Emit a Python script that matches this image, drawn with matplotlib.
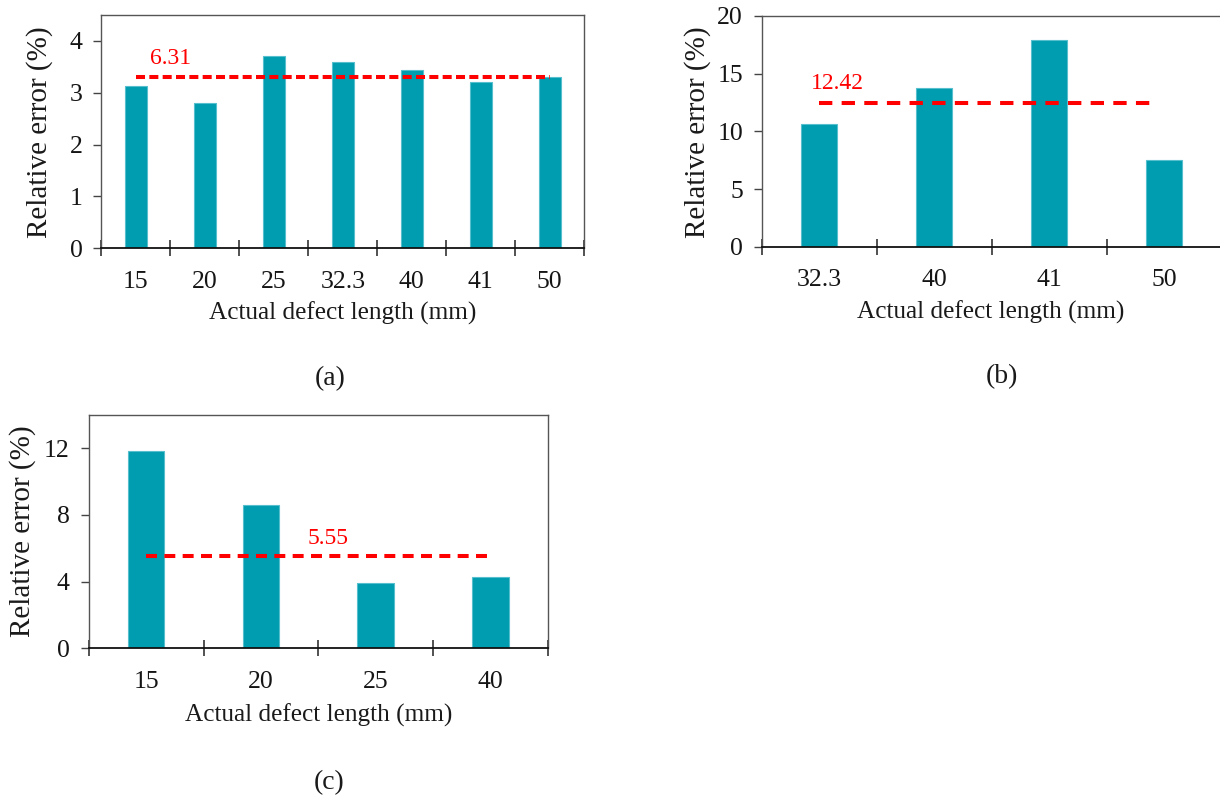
import numpy as np
import matplotlib.pyplot as plt

plt.rcParams['font.family'] = ['Liberation Serif', 'DejaVu Serif']
plt.rcParams['lines.scale_dashes'] = False

BAR_COLOR = '#009caf'
AVG_COLOR = '#ff0000'
W, H = 1220, 797

# (a) all defects
lengths_a = ['15', '20', '25', '32.3', '40', '41', '50']
errors_a = [3.13, 2.81, 3.70, 3.60, 3.43, 3.20, 3.30]
avg_a = 3.31
avg_text_a = '6.31'

# (b)
lengths_b = ['32.3', '40', '41', '50']
errors_b = [10.64, 13.73, 17.92, 7.51]
avg_b = 12.42
avg_text_b = '12.42'

# (c)
lengths_c = ['15', '20', '25', '40']
errors_c = [11.86, 8.61, 3.91, 4.30]
avg_c = 5.55
avg_text_c = '5.55'


def px_axes(fig, left, top, right, bottom):
    # axes rectangle given in pixel coords (origin top-left)
    return fig.add_axes([left / W, 1 - bottom / H, (right - left) / W, (bottom - top) / H])


def px_text(fig, x, y, s, **kw):
    fig.text(x / W, 1 - y / H, s, ha='center', va='center', color='#1a1a1a', **kw)


def draw_panel(ax, cats, vals, avg, avg_text, ymax, ystep, line_end, text_xy, dashes, bar_w=0.32):
    x = np.arange(len(cats))
    ax.bar(x, vals, width=bar_w, color=BAR_COLOR, edgecolor='#55bfcd', linewidth=0.8, zorder=2)
    ax.plot([0, line_end], [avg, avg], color=AVG_COLOR, lw=2.9, dashes=dashes,
            dash_capstyle='butt', zorder=3)
    ax.text(text_xy[0], text_xy[1], avg_text, color=AVG_COLOR, fontsize=17,
            ha='center', va='center')

    ax.set_xlim(-0.5, len(cats) - 0.5)
    ax.set_ylim(0, ymax)
    yt = np.arange(0, ymax + 0.01, ystep)
    ax.set_yticks(yt)
    ax.set_yticklabels([f'{v:g}' for v in yt])
    ax.set_xticks(x)
    ax.set_xticklabels(cats)
    ax.set_xticks(np.arange(len(cats) + 1) - 0.5, minor=True)

    ax.tick_params(axis='x', which='major', length=0, pad=16, labelsize=18.5, labelcolor='#151515')
    ax.tick_params(axis='x', which='minor', direction='inout', length=12, width=1.1, color='#222222')
    ax.tick_params(axis='y', direction='out', length=5.5, width=1, pad=8, labelsize=18.5,
                   color='#444444', labelcolor='#151515')

    for side in ['left', 'top', 'right']:
        ax.spines[side].set_color('#555555')
        ax.spines[side].set_linewidth(1.0)
    ax.spines['bottom'].set_color('#111111')
    ax.spines['bottom'].set_linewidth(1.3)


fig = plt.figure(figsize=(W / 100, H / 100), dpi=100)

ax_a = px_axes(fig, 101.4, 15, 584.3, 248.3)
draw_panel(ax_a, lengths_a, errors_a, avg_a, avg_text_a, 4.5, 1, 6.0, (0.5, 3.67), (6.5, 3.1))

ax_b = px_axes(fig, 761.8, 16, 1221.4, 246.7)
draw_panel(ax_b, lengths_b, errors_b, avg_b, avg_text_b, 20, 5, 2.92, (0.16, 14.17), (9.6, 6.7),
           bar_w=0.315)

ax_c = px_axes(fig, 88.6, 415, 548.2, 648.3)
draw_panel(ax_c, lengths_c, errors_c, avg_c, avg_text_c, 14, 4, 3.0, (1.58, 6.58), (7.9, 5.3))

# axis titles and panel captions
for x, y in [(40, 132), (697.5, 132), (23, 531)]:
    px_text(fig, x, y, 'Relative error (%)', fontsize=21, rotation=90)
for x, y in [(343, 313), (991, 312), (319, 715)]:
    px_text(fig, x, y, 'Actual defect length (mm)', fontsize=18.2)
for x, y, s in [(330, 379, '(a)'), (1002, 377, '(b)'), (329, 783, '(c)')]:
    px_text(fig, x, y, s, fontsize=20)

fig.savefig('out.png', dpi=100)
